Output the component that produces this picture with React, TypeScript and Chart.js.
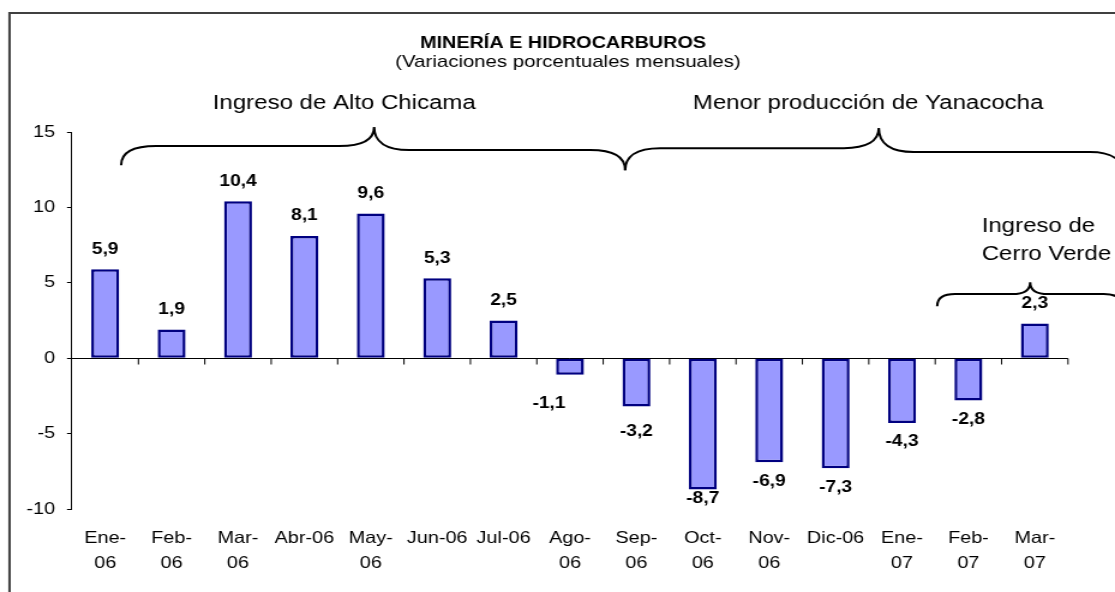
import React, { useEffect, useRef } from "react";
import { Chart, registerables } from "chart.js";

Chart.register(...registerables);

const FONT = '"Liberation Sans", Arial, Helvetica, sans-serif';

const categories: (string | string[])[] = [
  ["Ene-", "06"], ["Feb-", "06"], ["Mar-", "06"], "Abr-06", ["May-", "06"],
  "Jun-06", "Jul-06", ["Ago-", "06"], ["Sep-", "06"], ["Oct-", "06"],
  ["Nov-", "06"], "Dic-06", ["Ene-", "07"], ["Feb-", "07"], ["Mar-", "07"],
];
const values = [5.9, 1.9, 10.4, 8.1, 9.6, 5.3, 2.5, -1.1, -3.2, -8.7, -6.9, -7.3, -4.3, -2.8, 2.3];
const yMin = -10;
const yMax = 15;
const yStep = 5;

const titleText = "MINERÍA E HIDROCARBUROS";
const subtitleText = "(Variaciones porcentuales mensuales)";

// The reference is horizontally stretched: draw narrower, then stretch.
const OUT_W = 1115;
const OUT_H = 592;
const CANVAS_W = 929;
const S = OUT_W / CANVAS_W;

// label nudges (output pixels) for manually moved data labels
const labelNudges: [number, number][] = [
  [0, 0], [0, 0], [0, 0], [0, 0], [0, 0], [0, 0], [0, 0], [-21, 10],
  [0, 6], [0, -10], [0, 0], [0, 0], [0, 0], [0, 0], [0, 0],
];

// annotation anchors in data space (x: category index, y: value)
const noteTexts = [
  { lines: ["Ingreso de Alto Chicama"], x: 3.6, y: 16.52, align: "center" },
  { lines: ["Menor producción de Yanacocha"], x: 11.49, y: 16.52, align: "center" },
  { lines: ["Ingreso de", "Cerro Verde"], x: 13.2, y: 8.36, align: "left" },
];
const braces = [
  { x1: 0.24, y1: 12.8, hL: 14.07, xm: 4.05, ym: 15.33, hR: 13.8, x2: 7.83, y2: 12.47, r: 35 },
  { x1: 7.83, y1: 12.47, hL: 13.93, xm: 11.65, ym: 15.26, hR: 13.67, x2: 15.36, y2: 11.94, r: 35 },
  { x1: 12.53, y1: 3.45, hL: 4.25, xm: 13.93, ym: 5.04, hR: 4.25, x2: 15.31, y2: 3.52, r: 18 },
];

function drawBrace(ctx: CanvasRenderingContext2D, x1: number, y1: number, hL: number, xm: number, ym: number, hR: number, x2: number, y2: number, r: number) {
  ctx.beginPath();
  ctx.moveTo(x1, y1);
  ctx.bezierCurveTo(x1, y1 - (y1 - hL) * 0.6, x1 + r * 0.3, hL, x1 + r, hL);
  ctx.lineTo(xm - r, hL);
  ctx.bezierCurveTo(xm - r * 0.35, hL, xm, hL - (hL - ym) * 0.35, xm, ym);
  ctx.bezierCurveTo(xm, hR - (hR - ym) * 0.35, xm + r * 0.35, hR, xm + r, hR);
  ctx.lineTo(x2 - r, hR);
  ctx.bezierCurveTo(x2 - r * 0.3, hR, x2, y2 - (y2 - hR) * 0.6, x2, y2);
  ctx.stroke();
}

const fmt = (v: number) => v.toFixed(1).replace(".", ",");

export default function App() {
  const ref = useRef<HTMLCanvasElement | null>(null);

  useEffect(() => {
    if (!ref.current) return;

    const decor = {
      id: "decor",
      beforeDraw(chart: any) {
        const { ctx, width, height } = chart;
        ctx.save();
        ctx.fillStyle = "#ffffff";
        ctx.fillRect(0, 0, width, height);
        ctx.strokeStyle = "#404040";
        ctx.lineWidth = 2;
        ctx.beginPath();
        ctx.moveTo(9.5 / S, height);
        ctx.lineTo(9.5 / S, 13);
        ctx.lineTo(width, 13);
        ctx.stroke();
        ctx.restore();
      },
      beforeDatasetsDraw(chart: any) {
        const { ctx, chartArea } = chart;
        const ys = chart.scales.y;
        const y0 = Math.round(ys.getPixelForValue(0)) + 0.5;
        const n = categories.length;
        const w = (chartArea.right - chartArea.left) / n;
        ctx.save();
        ctx.strokeStyle = "#000000";
        ctx.lineWidth = 1;
        ctx.beginPath();
        ctx.moveTo(chartArea.left, y0);
        ctx.lineTo(chartArea.right, y0);
        for (let i = 1; i <= n; i++) {
          const x = chartArea.left + i * w;
          ctx.moveTo(x, y0);
          ctx.lineTo(x, y0 + 6);
        }
        ctx.stroke();
        ctx.restore();
      },
      afterDatasetsDraw(chart: any) {
        const { ctx } = chart;
        const xs = chart.scales.x;
        const ys = chart.scales.y;
        const meta = chart.getDatasetMeta(0);
        ctx.save();
        // data labels
        ctx.fillStyle = "#000000";
        ctx.font = `bold 16px ${FONT}`;
        ctx.textAlign = "center";
        ctx.textBaseline = "middle";
        meta.data.forEach((el: any, i: number) => {
          const v = values[i];
          const [dx, dy] = labelNudges[i];
          const y = v >= 0 ? el.y - 20 : el.y + 19;
          ctx.fillText(fmt(v), el.x + dx / S, y + dy);
        });
        // braces
        ctx.strokeStyle = "#000000";
        ctx.lineWidth = 2;
        braces.forEach((b) => {
          drawBrace(
            ctx,
            xs.getPixelForValue(b.x1), ys.getPixelForValue(b.y1),
            ys.getPixelForValue(b.hL),
            xs.getPixelForValue(b.xm), ys.getPixelForValue(b.ym),
            ys.getPixelForValue(b.hR),
            xs.getPixelForValue(b.x2), ys.getPixelForValue(b.y2),
            b.r / S
          );
        });
        // annotation texts
        ctx.font = `20px ${FONT}`;
        ctx.textBaseline = "alphabetic";
        noteTexts.forEach((t) => {
          ctx.textAlign = t.align as CanvasTextAlign;
          const x = xs.getPixelForValue(t.x);
          const y = ys.getPixelForValue(t.y);
          t.lines.forEach((line, k) => ctx.fillText(line, x, y + k * 28));
        });
        // title
        ctx.textAlign = "center";
        ctx.font = `bold 16.5px ${FONT}`;
        ctx.fillText(titleText, 563 / S, 48);
        ctx.font = `17px ${FONT}`;
        ctx.fillText(subtitleText, 568 / S, 67);
        ctx.restore();
      },
    };

    const chart = new Chart(ref.current, {
      type: "bar",
      data: {
        labels: categories as any,
        datasets: [
          {
            data: values,
            backgroundColor: "#9999FF",
            borderColor: "#000080",
            borderWidth: 2.5,
            borderSkipped: false,
            barPercentage: 0.42,
            categoryPercentage: 1,
          },
        ],
      },
      options: {
        responsive: false,
        animation: false,
        layout: { padding: { top: 132, right: 47 / S, bottom: 0, left: 0 } },
        plugins: {
          legend: { display: false },
          tooltip: { enabled: false },
          title: { display: false },
        },
        scales: {
          x: {
            grid: { display: false, drawTicks: false },
            border: { display: false },
            afterFit: (s: any) => {
              s.height = 83;
            },
            ticks: {
              autoSkip: false,
              maxRotation: 0,
              minRotation: 0,
              padding: 17,
              color: "#000000",
              font: { family: FONT, size: 16.5, lineHeight: 1.52 },
            },
          },
          y: {
            min: yMin,
            max: yMax,
            afterFit: (s: any) => {
              s.width = 72 / S;
            },
            grid: { drawOnChartArea: false, drawTicks: true, tickLength: 5 / S, color: "#000000" },
            border: { display: true, color: "#000000", width: 1 },
            ticks: {
              stepSize: yStep,
              padding: 12 / S,
              color: "#000000",
              font: { family: FONT, size: 16.5 },
            },
          },
        },
      },
      plugins: [decor],
    });

    return () => chart.destroy();
  }, []);

  return (
    <div style={{ position: "absolute", left: 0, top: 0, width: OUT_W, height: OUT_H, background: "#fff", overflow: "hidden" }}>
      <canvas
        ref={ref}
        width={CANVAS_W}
        height={OUT_H}
        style={{ display: "block", width: CANVAS_W, height: OUT_H, transform: `scaleX(${S})`, transformOrigin: "0 0" }}
      />
    </div>
  );
}
